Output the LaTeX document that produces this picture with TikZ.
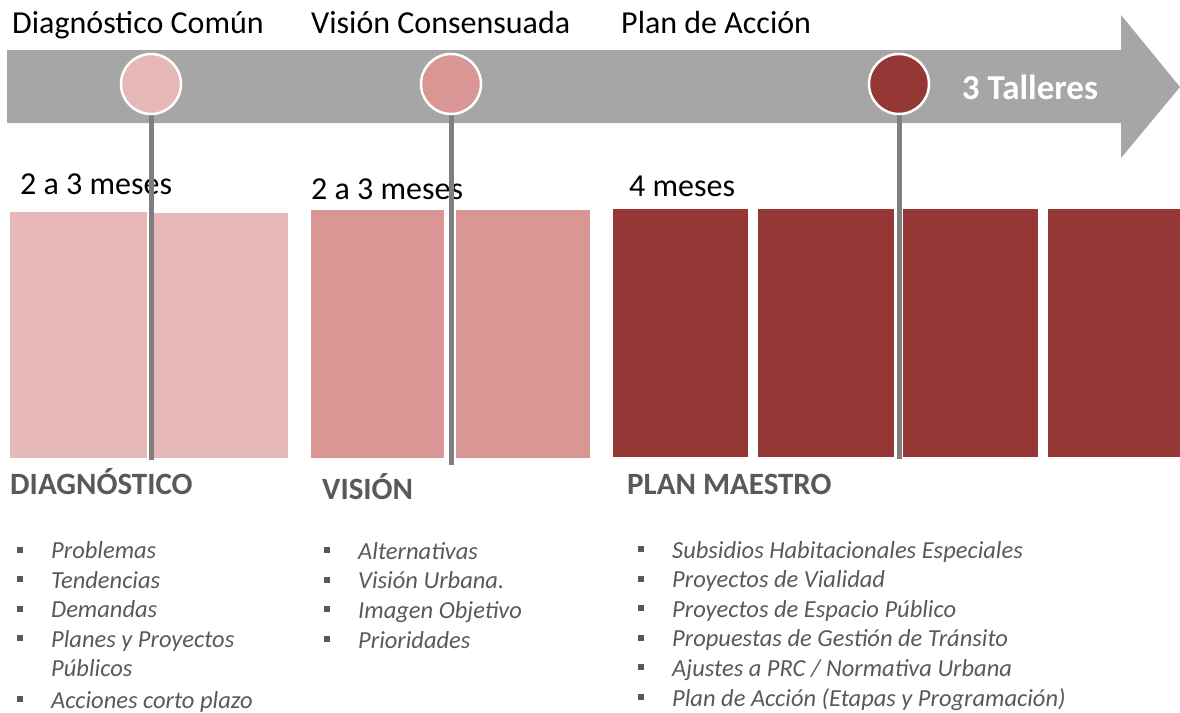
\documentclass[tikz,border=0pt]{standalone}
\usepackage{fontspec}
\setmainfont{Carlito}
\definecolor{barg}{HTML}{A6A6A6}
\definecolor{pk1}{HTML}{E6B8B7}
\definecolor{pk2}{HTML}{D99694}
\definecolor{pk3}{HTML}{953735}
\definecolor{txg}{HTML}{595959}
\definecolor{lng}{HTML}{7F7F7F}
\newcommand{\bul}{\makebox[34pt][l]{\raisebox{6pt}{\color{txg}\rule{6pt}{6pt}}}}
\newcommand{\nob}{\makebox[34pt][l]{}}
\tikzset{
  blk/.style={anchor=north west, inner sep=0pt, outer sep=0pt, minimum height=#1},
  dot/.style={circle, minimum size=60pt, inner sep=0pt, draw=white, line width=2.5pt},
  vline/.style={lng, line width=5pt},
  ttl/.style={anchor=base west, inner sep=0pt, font=\fontsize{32}{36}\selectfont},
  head/.style={anchor=base west, inner sep=0pt, text=txg, font=\fontsize{31}{36}\selectfont\bfseries},
  lst/.style={anchor=base west, inner sep=0pt, text=txg, align=left, font=\fontsize{24.5}{29.6}\selectfont\itshape}
}
\begin{document}
\begin{tikzpicture}[x=1pt,y=-1pt]
\useasboundingbox (0,0) rectangle (1180,712);
% timeline arrow
\fill[barg] (7,50) -- (1121,50) -- (1121,15) -- (1180,87) -- (1121,158) -- (1121,123) -- (7,123) -- cycle;
% blocks
\node[blk=246pt, minimum width=137pt, fill=pk1] (d1) at (10,212) {};
\node[blk=245pt, minimum width=135pt, fill=pk1] (d2) at (153,213) {};
\node[blk=248pt, minimum width=133pt, fill=pk2] (v1) at (311,210) {};
\node[blk=248pt, minimum width=134pt, fill=pk2] (v2) at (456,210) {};
\node[blk=248pt, minimum width=135pt, fill=pk3] (p1) at (613,209) {};
\node[blk=248pt, minimum width=136pt, fill=pk3] (p2) at (758,209) {};
\node[blk=248pt, minimum width=135pt, fill=pk3] (p3) at (903,209) {};
\node[blk=248pt, minimum width=132pt, fill=pk3] (p4) at (1048,209) {};
% durations
\node[ttl] (m1) at (20,194) {2 a 3 meses};
\node[ttl] (m2) at (311,199) {2 a 3 meses};
\node[ttl] (m3) at (629,196) {4 meses};
% line ends
\coordinate (e1) at (151,460);
\coordinate (e2) at (451,465);
\coordinate (e3) at (899,459);
\coordinate (s1) at (151,84);
\coordinate (s2) at (451,84);
\coordinate (s3) at (899,84);
\draw[vline] (s1) -- (e1);
\draw[vline] (s2) -- (e2);
\draw[vline] (s3) -- (e3);
% milestones
\node[dot, fill=pk1] (c1) at (s1) {};
\node[dot, fill=pk2] (c2) at (s2) {};
\node[dot, fill=pk3] (c3) at (s3) {};
\node[anchor=base, inner sep=0pt, text=white, font=\fontsize{35}{40}\selectfont\bfseries] (tal) at (1030,99) {3 Talleres};
% titles
\node[ttl] (t1) at (12,33) {Diagnóstico Común};
\node[ttl] (t2) at (311,33) {Visión Consensuada};
\node[ttl] (t3) at (621,33) {Plan de Acción};
% headings
\node[head] (h1) at (10,494) {DIAGNÓSTICO};
\node[head] (h2) at (322,499) {VISIÓN};
\node[head] (h3) at (627,494) {PLAN MAESTRO};
% lists (anchored at the baseline of the last line)
\node[lst] (l1) at (17,708) {\bul Problemas\\ \bul Tendencias\\ \bul Demandas\\ \bul Planes y Proyectos\\ \nob Públicos\\[1.5pt] \bul Acciones corto plazo};
\node[lst] (l2) at (324,648) {\bul Alternativas\\ \bul Visión Urbana.\\ \bul Imagen Objetivo\\ \bul Prioridades};
\node[lst] (l3) at (638,706) {\bul Subsidios Habitacionales Especiales\\ \bul Proyectos de Vialidad\\ \bul Proyectos de Espacio Público\\ \bul Propuestas de Gestión de Tránsito\\ \bul Ajustes a PRC / Normativa Urbana\\ \bul Plan de Acción (Etapas y Programación)};
\end{tikzpicture}
\end{document}
